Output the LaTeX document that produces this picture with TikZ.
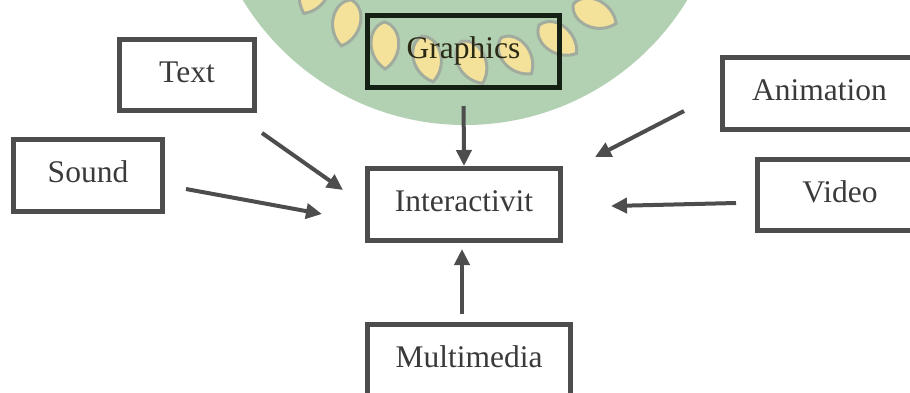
\documentclass[tikz,border=0pt]{standalone}
\usepackage{fontspec}
\setmainfont{Liberation Serif}
\usetikzlibrary{arrows.meta}
\definecolor{boxline}{HTML}{4D4D4D}
\definecolor{labeltxt}{HTML}{3A3A3A}
\definecolor{crestgreen}{HTML}{B2D0B2}
\definecolor{leafyellow}{HTML}{F4E29A}
\definecolor{leafedge}{HTML}{A2AC9E}
\definecolor{darkline}{HTML}{142014}
\definecolor{darktxt}{HTML}{2A2A14}
\tikzset{
  mbox/.style={draw=boxline, line width=5pt, inner sep=0pt,
    font=\fontsize{31.5}{36}\selectfont, text=labeltxt,
    text height=20.5pt, text depth=6pt},
  flow/.style={draw=boxline, line width=4pt, -{Triangle[length=16pt,width=15pt]}},
  leaf/.style={fill=leafyellow, draw=leafedge, line width=3pt}
}
\begin{document}
\begin{tikzpicture}[x=1pt,y=-1pt]
\useasboundingbox (0,0) rectangle (910,392);
\clip (0,0) rectangle (910,392);

% crest in the background: green disc with a ring of leaves
\fill[crestgreen] (465,-135) circle (260pt);
\foreach \a in {23,36,...,153}{
  \draw[leaf, shift={(465,-135)}, rotate=-\a, shift={(197,0)}, rotate=25]
    (24,0) .. controls (12,19) and (-18,18) .. (-23,0)
           .. controls (-18,-18) and (12,-19) .. (24,0) -- cycle;
}

% boxes
\node[mbox, minimum width=135pt, minimum height=71pt] (text) at (187,75) {Text};
\node[mbox, minimum width=149pt, minimum height=72pt] (sound) at (88,175.5) {Sound};
\node[mbox, draw=darkline, text=darktxt, minimum width=192pt, minimum height=72pt] (graphics) at (463.5,51.5) {Graphics};
\node[mbox, minimum width=194pt, minimum height=72pt] (animation) at (819.5,93.5) {Animation};
\node[mbox, minimum width=165pt, minimum height=71pt] (video) at (840,195) {Video};
\node[mbox, minimum width=193pt, minimum height=72pt] (inter) at (464,204.5) {Interactivit};
\node[mbox, minimum width=203pt, minimum height=72pt] (multi) at (469,360) {Multimedia};

% arrow ends
\coordinate (textTail) at (262,133);
\coordinate (textHead) at (343,190);
\coordinate (soundTail) at (186,189);
\coordinate (soundHead) at (322,214);
\coordinate (animTail) at (684,111);
\coordinate (animHead) at (595,157);
\coordinate (videoTail) at (736,203);
\coordinate (videoHead) at (611,206);
\coordinate (multiTail) at (462,314);
\coordinate (multiHead) at (462,249);

% connectors
\draw[flow] (textTail) -- (textHead);
\draw[flow] (soundTail) -- (soundHead);
\draw[flow, shorten <=16pt] (graphics.south) -- (inter.north);
\draw[flow] (animTail) -- (animHead);
\draw[flow] (videoTail) -- (videoHead);
\draw[flow] (multiTail) -- (multiHead);
\end{tikzpicture}
\end{document}
